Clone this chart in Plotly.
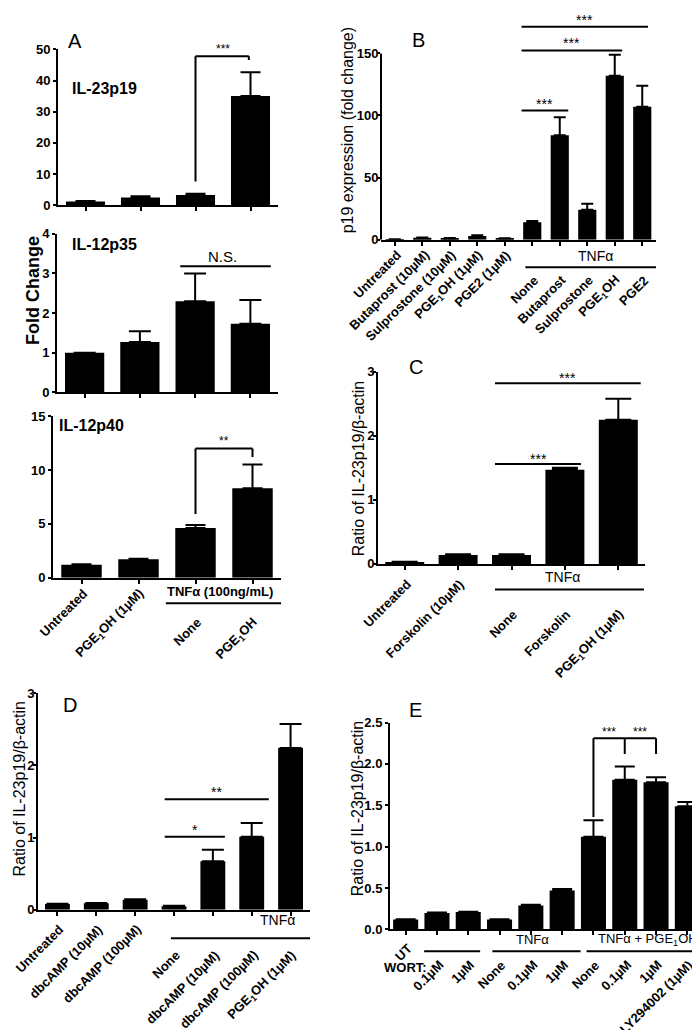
import plotly.graph_objects as go

FONT = "Liberation Sans, Arial, sans-serif"
W, H = 700, 1030

# ---------------- data ----------------
A_LABELS = ["Untreated", "PGE<sub>1</sub>OH (1µM)", "None", "PGE<sub>1</sub>OH"]
A_IL23P19 = [1.2, 2.5, 3.3, 35.1]
A_IL23P19_ERR = [0.15, 0.4, 0.35, 7.6]
A_IL12P35 = [1.0, 1.27, 2.3, 1.73]
A_IL12P35_ERR = [0.0, 0.27, 0.7, 0.6]
A_IL12P40 = [1.2, 1.7, 4.6, 8.3]
A_IL12P40_ERR = [0.05, 0.05, 0.3, 2.2]

B_LABELS = ["Untreated", "Butaprost (10µM)", "Sulprostone (10µM)",
            "PGE<sub>1</sub>OH (1µM)", "PGE2 (1µM)", "None", "Butaprost",
            "Sulprostone", "PGE<sub>1</sub>OH", "PGE2"]
B_VALUES = [0.3, 1.5, 1.0, 3.0, 1.0, 14.0, 84.0, 24.0, 132.0, 107.0]
B_ERR = [0.0, 0.3, 0.3, 0.5, 0.2, 1.0, 14.5, 5.0, 17.0, 17.0]

C_LABELS = ["Untreated", "Forskolin (10µM)", "None", "Forskolin",
            "PGE<sub>1</sub>OH (1µM)"]
C_VALUES = [0.03, 0.14, 0.14, 1.47, 2.25]
C_ERR = [0.005, 0.01, 0.01, 0.03, 0.33]

D_LABELS = ["Untreated", "dbcAMP (10µM)", "dbcAMP (100µM)", "None",
            "dbcAMP (10µM)", "dbcAMP (100µM)", "PGE<sub>1</sub>OH (1µM)"]
D_VALUES = [0.08, 0.09, 0.14, 0.05, 0.67, 1.01, 2.24]
D_ERR = [0.005, 0.005, 0.005, 0.005, 0.16, 0.19, 0.33]

E_LABELS = ["UT", "0.1µM", "1µM", "None", "0.1µM", "1µM", "None", "0.1µM",
            "1µM", "LY294002 (1µM)"]
E_VALUES = [0.12, 0.2, 0.21, 0.12, 0.29, 0.47, 1.12, 1.81, 1.78, 1.49]
E_ERR = [0.005, 0.005, 0.005, 0.005, 0.01, 0.02, 0.2, 0.16, 0.06, 0.05]

A_YTICKS1 = [0, 10, 20, 30, 40, 50]
A_YTICKS2 = [0, 1, 2, 3, 4]
A_YTICKS3 = [0, 5, 10, 15]
B_YTICKS = [0, 50, 100, 150]
C_YTICKS = [0, 1, 2, 3]
D_YTICKS = [0, 1, 2, 3]
E_YTICKS = [0.0, 0.5, 1.0, 1.5, 2.0, 2.5]


def px(x):
    return x / W


def py(y):
    return 1 - y / H


panels = [
    dict(v=A_IL23P19, e=A_IL23P19_ERR, lab=None, xd=(50, 270), yd=(193, 35), yr=[0, 50], yt=A_YTICKS1, bw=0.71, cap=10, so=0),
    dict(v=A_IL12P35, e=A_IL12P35_ERR, lab=None, xd=(49, 270), yd=(383, 222), yr=[0, 4], yt=A_YTICKS2, bw=0.71, cap=11, so=0),
    dict(v=A_IL12P40, e=A_IL12P40_ERR, lab=A_LABELS, xd=(45, 273), yd=(571, 407), yr=[0, 15], yt=A_YTICKS3, bw=0.71, cap=10, g=2, s=(-5, -34), so=0),
    dict(v=B_VALUES, e=B_ERR, lab=B_LABELS, xd=(373, 648), yd=(228, 6.2), yr=[0, 176], yt=B_YTICKS, bw=0.66, cap=6, g=5, s=(-5, -30), noline=True, so=-4),
    dict(v=C_VALUES, e=C_ERR, lab=C_LABELS, xd=(370, 637), yd=(557, 362), yr=[0, 3], yt=C_YTICKS, bw=0.73, cap=13, g=2, s=(-10, -40), so=-4),
    dict(v=D_VALUES, e=D_ERR, lab=D_LABELS, xd=(30, 302), yd=(908, 688), yr=[0, 3], yt=D_YTICKS, bw=0.64, cap=11, g=3, s=(-9, -35), so=-4),
    dict(v=E_VALUES, e=E_ERR, lab=E_LABELS, xd=(382, 695), yd=(928, 718), yr=[0, 2.5], yt=E_YTICKS, bw=0.8, cap=10, g=1, s=(-9, -25), fmt=".1f", so=0),
]

fig = go.Figure()
layout = dict(width=W, height=H, margin=dict(l=0, r=0, t=0, b=0),
              paper_bgcolor="white", plot_bgcolor="white", showlegend=False,
              font=dict(family=FONT, color="black"))
shapes = []
annotations = []
tickfont = dict(family=FONT, size=13, color="black", weight="bold")

for i, p in enumerate(panels, start=1):
    sx = "" if i == 1 else str(i)
    xa, ya = "x" + sx, "y" + sx
    n = len(p["v"])
    fig.add_trace(go.Bar(
        x=list(range(n)), y=p["v"], width=p["bw"], xaxis=xa, yaxis=ya,
        marker=dict(color="black", line=dict(width=0)),
        error_y=dict(type="data", array=p["e"], arrayminus=[0] * n,
                     symmetric=False, color="black", thickness=2, width=p["cap"]),
        hoverinfo="skip"))
    layout["xaxis" + sx] = dict(
        domain=[px(p["xd"][0]), px(p["xd"][1])], anchor=ya,
        range=[-0.5, n - 0.5], tickvals=list(range(n)), showticklabels=False,
        ticks="outside", ticklen=4, tickwidth=2, tickcolor="black",
        showline=True, linecolor="black", linewidth=2, showgrid=False,
        zeroline=False, fixedrange=True)
    layout["yaxis" + sx] = dict(
        domain=[py(p["yd"][0]), py(p["yd"][1])], anchor=xa,
        range=p["yr"], tickvals=p["yt"], tickformat=p.get("fmt", ""),
        ticks="outside", ticklen=3, tickwidth=2, tickcolor="black",
        ticklabelstandoff=p["so"],
        tickfont=tickfont, showline=not p.get("noline", False),
        linecolor="black", linewidth=2, showgrid=False, zeroline=False,
        fixedrange=True)
    if p.get("noline"):
        shapes.append(dict(type="line", xref=xa + " domain", yref=ya,
                           x0=0, x1=0, y0=0, y1=p["yt"][-1],
                           line=dict(color="black", width=2)))
    if p["lab"]:
        for j, lab in enumerate(p["lab"]):
            annotations.append(dict(
                x=j, y=0, xref=xa, yref=ya, text=lab, showarrow=False,
                textangle=-45, xanchor="right", yanchor="top", xshift=12,
                yshift=p["s"][0] if j < p["g"] else p["s"][1],
                font=dict(family=FONT, size=13, color="black", weight="bold")))


def line(xref, yref, x0, y0, x1, y1, w=2):
    shapes.append(dict(type="line", xref=xref, yref=yref, x0=x0, y0=y0,
                       x1=x1, y1=y1, line=dict(color="black", width=w)))


def text(xref, yref, x, y, t, size=12, bold=False, xanchor="center",
         yanchor="bottom", angle=0, yshift=0):
    annotations.append(dict(
        x=x, y=y, xref=xref, yref=yref, text=t, showarrow=False,
        xanchor=xanchor, yanchor=yanchor, textangle=angle, yshift=yshift,
        font=dict(family=FONT, size=size, color="black",
                  weight="bold" if bold else "normal")))


# ---- Panel A ----
line("x", "y", 2, 7.6, 2, 47.8)
line("x", "y", 2, 47.8, 2.97, 47.8)
line("x", "y", 2.97, 47.8, 2.97, 46.6)
text("x", "y", 2.5, 47.8, "***", size=12, yshift=-2)
line("x2", "y2", 1.73, 3.18, 3.37, 3.18)
text("x2", "y2", 2.5, 3.18, "N.S.", size=15, yshift=-1)
line("x3", "y3", 2, 5.9, 2, 12.0)
line("x3", "y3", 2, 12.0, 3.0, 12.0)
line("x3", "y3", 3.0, 12.0, 3.0, 11.2)
text("x3", "y3", 2.5, 12.0, "**", size=12, yshift=-2)
line("x3", "paper", 1.48, py(597), 3.57, py(597))
text("x3", "paper", 2.43, py(585), "TNFα (100ng/mL)", size=13, bold=True, yanchor="middle")
text("paper", "paper", px(62), py(75), "IL-23p19", size=16, bold=True, xanchor="left", yanchor="middle")
text("paper", "paper", px(62), py(233), "IL-12p35", size=16, bold=True, xanchor="left", yanchor="middle")
text("paper", "paper", px(49), py(417), "IL-12p40", size=16, bold=True, xanchor="left", yanchor="middle")
text("paper", "paper", px(25), py(280), "Fold Change", size=18, bold=True, yanchor="middle", angle=-90)
text("paper", "paper", px(67), py(26), "A", size=20, yanchor="middle")

# ---- Panel B ----
line("x4", "y4", 4.61, 104, 6.31, 104)
text("x4", "y4", 5.46, 104, "***", size=14, yshift=-3)
line("x4", "y4", 4.61, 152.4, 8.27, 152.4)
text("x4", "y4", 6.44, 152.4, "***", size=14, yshift=-3)
line("x4", "y4", 4.61, 171.4, 9.21, 171.4)
text("x4", "y4", 6.91, 171.4, "***", size=14, yshift=-3)
line("x4", "paper", 4.75, py(256), 9.57, py(256))
text("x4", "paper", 7.29, py(245), "TNFα", size=14, yanchor="middle")
text("paper", "paper", px(339), py(117), "p19 expression (fold change)", size=16, yanchor="middle", angle=-90)
text("paper", "paper", px(410), py(25), "B", size=20, yanchor="middle")

# ---- Panel C ----
line("x5", "y5", 1.69, 1.56, 3.3, 1.56)
text("x5", "y5", 2.5, 1.56, "***", size=14, yshift=-5)
line("x5", "y5", 1.69, 2.82, 4.42, 2.82)
text("x5", "y5", 3.05, 2.82, "***", size=14, yshift=-5)
line("x5", "paper", 1.69, py(583), 4.48, py(583))
text("x5", "paper", 2.96, py(570), "TNFα", size=14, yanchor="middle")
text("paper", "paper", px(350), py(460), "Ratio of IL-23p19/β-actin", size=16, yanchor="middle", angle=-90)
text("paper", "paper", px(408), py(357), "C", size=20, yanchor="middle")

# ---- Panel D ----
line("x6", "y6", 2.76, 1.01, 4.31, 1.01)
text("x6", "y6", 3.55, 1.01, "*", size=14, yshift=-3)
line("x6", "y6", 2.76, 1.53, 5.44, 1.53)
text("x6", "y6", 4.1, 1.53, "**", size=14, yshift=-3)
line("x6", "paper", 2.92, py(937), 6.67, py(937))
text("x6", "paper", 5.67, py(918), "TNFα", size=14, yanchor="middle")
text("paper", "paper", px(12), py(785), "Ratio of IL-23p19/β-actin", size=16, yanchor="middle", angle=-90)
text("paper", "paper", px(62), py(700), "D", size=20, yanchor="middle")

# ---- Panel E ----
line("x7", "y7", 6, 1.36, 6, 2.31)
line("x7", "y7", 6, 2.31, 8, 2.31)
line("x7", "y7", 7, 2.31, 7, 2.12)
line("x7", "y7", 8, 2.31, 8, 2.12)
text("x7", "y7", 6.5, 2.31, "***", size=12, yshift=-3)
text("x7", "y7", 7.5, 2.31, "***", size=12, yshift=-3)
line("x7", "paper", 0.59, py(950), 2.38, py(950))
line("x7", "paper", 2.77, py(950), 5.59, py(950))
line("x7", "paper", 5.78, py(950), 9.56, py(950))
text("x7", "paper", 4.05, py(938), "TNFα", size=13, yanchor="middle")
text("x7", "paper", 7.74, py(938), "TNFα + PGE<sub>1</sub>OH", size=13, yanchor="middle")
text("paper", "paper", px(421), py(967), "WORT:", size=13, bold=True, xanchor="right", yanchor="middle")
text("paper", "paper", px(349), py(805), "Ratio of IL-23p19/β-actin", size=16, yanchor="middle", angle=-90)
text("paper", "paper", px(407), py(705), "E", size=20, yanchor="middle")

layout["shapes"] = shapes
layout["annotations"] = annotations
fig.update_layout(**layout)
fig.write_html("out.html")
